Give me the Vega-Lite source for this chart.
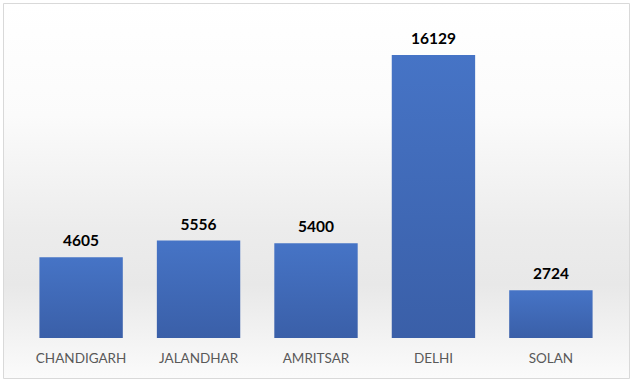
{
  "$schema": "https://vega.github.io/schema/vega-lite/v6.json",
  "width": 626,
  "height": 375,
  "autosize": {"type": "none"},
  "padding": {"left": 3, "top": 3, "right": 5, "bottom": 5},
  "background": "#ffffff",
  "config": {
    "view": {
      "stroke": "#d9d9d9",
      "strokeWidth": 1,
      "fill": {"gradient": "linear", "x1": 0, "y1": 0, "x2": 0, "y2": 1,
        "stops": [
          {"offset": 0, "color": "#ffffff"},
          {"offset": 0.3, "color": "#fbfbfb"},
          {"offset": 0.6, "color": "#ececec"},
          {"offset": 0.75, "color": "#e8e8e8"},
          {"offset": 1, "color": "#fbfbfb"}
        ]}
    },
    "font": "Lato"
  },
  "data": {
    "values": [
      {"city": "CHANDIGARH", "value": 4605},
      {"city": "JALANDHAR", "value": 5556},
      {"city": "AMRITSAR", "value": 5400},
      {"city": "DELHI", "value": 16129},
      {"city": "SOLAN", "value": 2724}
    ]
  },
  "encoding": {
    "x": {
      "field": "city",
      "type": "nominal",
      "sort": null,
      "scale": {"paddingInner": 0.29, "paddingOuter": 0.31},
      "axis": {
        "title": null,
        "labelAngle": 0,
        "domain": false,
        "ticks": false,
        "offset": -40,
        "labelPadding": 13,
        "labelFont": "Lato",
        "labelFontSize": 13.5,
        "labelColor": "#595959"
      }
    },
    "y": {
      "field": "value",
      "type": "quantitative",
      "scale": {"domain": [0, 19093], "range": [335, 0], "nice": false},
      "axis": null
    }
  },
  "layer": [
    {
      "mark": {
        "type": "bar",
        "color": {"gradient": "linear", "x1": 0, "y1": 0, "x2": 0, "y2": 1,
          "stops": [
            {"offset": 0, "color": "#4674c6"},
            {"offset": 1, "color": "#3a5fa8"}
          ]}
      }
    },
    {
      "mark": {
        "type": "text",
        "baseline": "bottom",
        "dy": -8,
        "font": "Lato",
        "fontWeight": "bold",
        "fontSize": 15.5,
        "color": "#000000"
      },
      "encoding": {"text": {"field": "value", "type": "quantitative", "format": "d"}}
    }
  ]
}
